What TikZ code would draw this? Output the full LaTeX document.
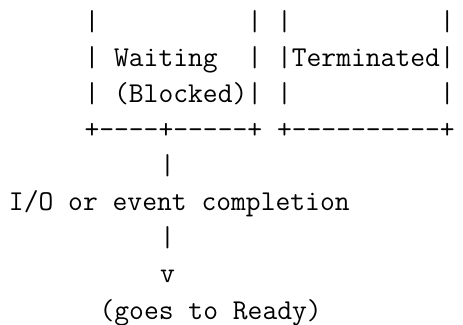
\documentclass[tikz,border=0pt]{standalone}
\usepackage{fontspec}
\begin{document}
\begin{tikzpicture}[x=1pt,y=-1pt,
  asciiline/.style={anchor=base west,inner sep=0pt,outer sep=0pt,
    font=\fontsize{28.76}{36}\selectfont\ttfamily}]
\useasboundingbox (0,0) rectangle (463,324);
\def\cw{15.1}
\def\xo{9}
\node[asciiline] (r1) at ({\xo+5*\cw},30)    {|~~~~~~~~~~|~|~~~~~~~~~~|};
\node[asciiline] (r2) at ({\xo+5*\cw},66.2)  {|~Waiting~~|~|Terminated|};
\node[asciiline] (r3) at ({\xo+5*\cw},102.4) {|~(Blocked)|~|~~~~~~~~~~|};
\node[asciiline] (r4) at ({\xo+5*\cw},138.5) {+----+-----+~+----------+};
\node[asciiline] (r5) at ({\xo+10*\cw},174.6) {|};
\node[asciiline] (r6) at ({\xo},210.7)        {I/O~or~event~completion};
\node[asciiline] (r7) at ({\xo+10*\cw},246.8) {|};
\node[asciiline] (r8) at ({\xo+10*\cw},282.9) {v};
\node[asciiline] (r9) at ({\xo+6*\cw},319)   {(goes~to~Ready)};
\end{tikzpicture}
\end{document}
